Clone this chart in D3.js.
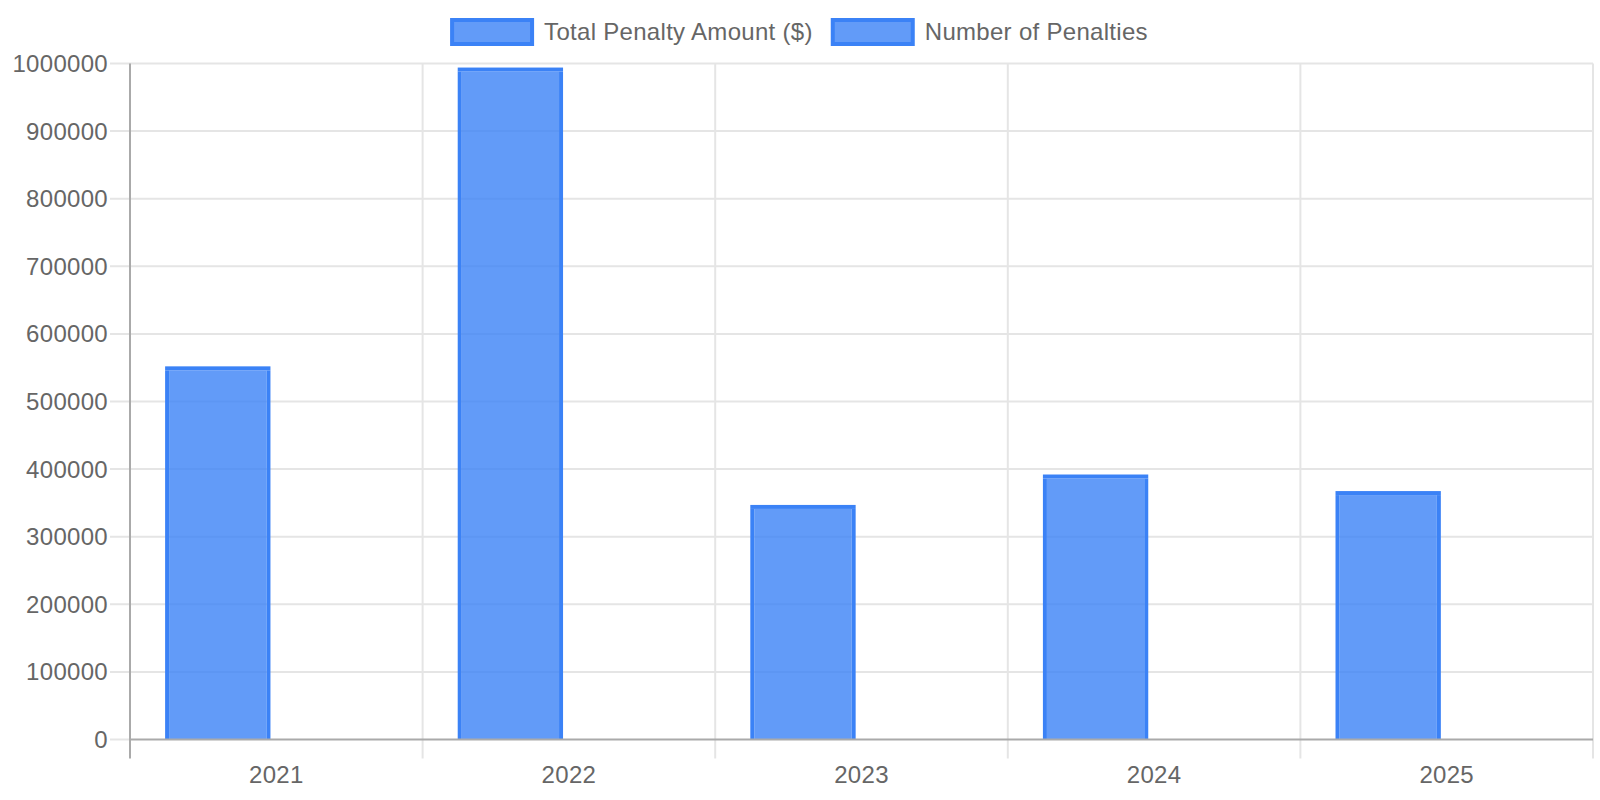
<!DOCTYPE html>
<html>
<head>
<meta charset="utf-8">
<script src="https://cdn.jsdelivr.net/npm/d3@7"></script>
<style>
  body { margin: 0; background: #fff; }
  svg { display: block; font-family: "Liberation Sans", Arial, sans-serif; }
  text { letter-spacing: 0.3px; }
</style>
</head>
<body>
<div class="chart"></div>
<script>
var w = 1600,
  h = 800,
  years = ['2021', '2022', '2023', '2024', '2025'],
  seriesNames = ['Total Penalty Amount ($)', 'Number of Penalties'],
  penaltyAmounts = [552000, 994000, 347000, 392000, 367500],
  penaltyCounts = [14, 22, 9, 11, 10],
  yTicks = [0, 100000, 200000, 300000, 400000, 500000, 600000, 700000, 800000, 900000, 1000000];

var borderColor = 'rgb(59,130,246)',
  fillColor = 'rgba(59,130,246,0.8)',
  textColor = '#666',
  gridColor = '#e5e5e5',
  axisColor = '#aaa',
  fontSize = 24,
  bw = 4;

var margin = { left: 130, right: 7, top: 63.5, bottom: 60.5 };

var svg = d3.select('.chart')
  .append('svg')
  .attr('width', w)
  .attr('height', h);

var x = d3.scaleBand()
  .domain(years)
  .range([margin.left, w - margin.right]);

// chart.js style grouping: categoryPercentage 0.8, barPercentage 0.9
var xInner = d3.scaleBand()
  .domain(seriesNames)
  .range([x.bandwidth() * 0.1, x.bandwidth() * 0.9])
  .paddingInner(0.1)
  .paddingOuter(0.05);

var y = d3.scaleLinear()
  .domain([0, 1000000])
  .range([h - margin.bottom, margin.top]);

var x0 = margin.left, x1 = w - margin.right, yBase = y(0);

// horizontal grid + y ticks
var grid = svg.append('g');
yTicks.forEach(function (t) {
  if (t === 0) return;
  grid.append('line')
    .attr('x1', x0 - 20).attr('x2', x1)
    .attr('y1', y(t)).attr('y2', y(t))
    .attr('stroke', gridColor).attr('stroke-width', 2);
});
grid.append('line')
  .attr('x1', x0 - 20).attr('x2', x0)
  .attr('y1', yBase).attr('y2', yBase)
  .attr('stroke', gridColor).attr('stroke-width', 2);

// vertical grid between categories
var bounds = years.map(function (d) { return x(d); }).concat([x1]);
bounds.forEach(function (bx, i) {
  if (i === 0) return;
  grid.append('line')
    .attr('x1', bx).attr('x2', bx)
    .attr('y1', margin.top).attr('y2', yBase + 19)
    .attr('stroke', gridColor).attr('stroke-width', 2);
});

// y tick labels
svg.append('g').selectAll('text')
  .data(yTicks)
  .enter()
  .append('text')
  .attr('x', x0 - 22)
  .attr('y', function (d) { return y(d); })
  .attr('dy', '0.35em')
  .attr('text-anchor', 'end')
  .attr('font-size', fontSize)
  .attr('fill', textColor)
  .text(function (d) { return d; });

// x tick labels
svg.append('g').selectAll('text')
  .data(years)
  .enter()
  .append('text')
  .attr('x', function (d) { return x(d) + x.bandwidth() / 2; })
  .attr('y', 783)
  .attr('text-anchor', 'middle')
  .attr('font-size', fontSize)
  .attr('fill', textColor)
  .text(function (d) { return d; });

// bars, border drawn inside like chart.js (no bottom border)
var drawBar = function (g, bx, value, width) {
  var top = y(value),
    bh = yBase - top;
  if (bh <= 0) return;
  var bs = Math.min(bw, width / 2),
    bt = Math.min(bw, bh);
  g.append('rect')
    .attr('x', bx + bs).attr('y', top + bt)
    .attr('width', Math.max(0, width - 2 * bs)).attr('height', Math.max(0, bh - bt))
    .attr('fill', fillColor);
  g.append('rect')
    .attr('x', bx).attr('y', top)
    .attr('width', width).attr('height', bt)
    .attr('fill', borderColor);
  g.append('rect')
    .attr('x', bx).attr('y', top + bt)
    .attr('width', bs).attr('height', Math.max(0, bh - bt))
    .attr('fill', borderColor);
  g.append('rect')
    .attr('x', bx + width - bs).attr('y', top + bt)
    .attr('width', bs).attr('height', Math.max(0, bh - bt))
    .attr('fill', borderColor);
};

var bars = svg.append('g');
[penaltyAmounts, penaltyCounts].forEach(function (values, si) {
  values.forEach(function (v, i) {
    drawBar(bars, x(years[i]) + xInner(seriesNames[si]), v, xInner.bandwidth());
  });
});

// axis lines
svg.append('line')
  .attr('x1', x0).attr('x2', x0)
  .attr('y1', margin.top).attr('y2', yBase + 19)
  .attr('stroke', axisColor).attr('stroke-width', 2);
svg.append('line')
  .attr('x1', x0).attr('x2', x1)
  .attr('y1', yBase).attr('y2', yBase)
  .attr('stroke', axisColor).attr('stroke-width', 2);

// legend
var legend = svg.append('g');
var items = seriesNames.map(function (name) {
  var g = legend.append('g');
  g.append('rect')
    .attr('x', 0).attr('y', 20)
    .attr('width', 80).attr('height', 24)
    .attr('fill', fillColor)
    .attr('stroke', borderColor)
    .attr('stroke-width', bw);
  var t = g.append('text')
    .attr('x', 92).attr('y', 32)
    .attr('dy', '0.35em')
    .attr('font-size', fontSize)
    .attr('fill', textColor)
    .text(name);
  return { g: g, width: 92 + t.node().getComputedTextLength() };
});
var totalW = d3.sum(items, function (d) { return d.width; }) + 20 * (items.length - 1);
var lx = (w - totalW) / 2;
items.forEach(function (it) {
  it.g.attr('transform', 'translate(' + lx + ',0)');
  lx += it.width + 20;
});
</script>
</body>
</html>
